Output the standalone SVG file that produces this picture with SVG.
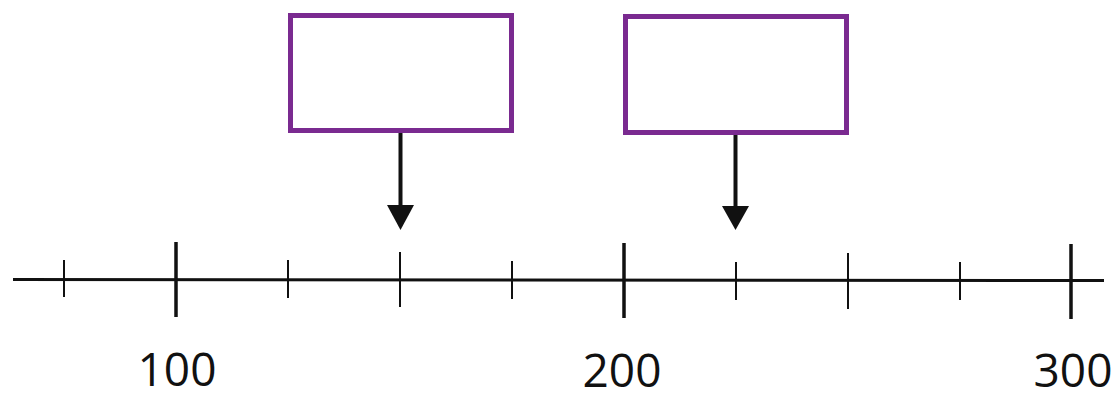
<svg xmlns="http://www.w3.org/2000/svg" width="1117" height="402" viewBox="0 0 1117 402">
<style>
.box{fill:#ffffff;stroke:#7a2a90;stroke-width:5}
.ax{stroke:#111;stroke-width:3;fill:none}
.tk{stroke:#111;stroke-width:2}
.mj{stroke:#111;stroke-width:3.5}
.arr{stroke:#111;stroke-width:4;fill:none}
.lbl{font-family:"Open Sans","Noto Sans",sans-serif;font-size:46px;fill:#111;text-anchor:middle}
</style>
<rect width="1117" height="402" fill="#ffffff"/>
<g id="box1"><rect class="box" x="290.5" y="15.5" width="221" height="115"/></g>
<g id="box2"><rect class="box" x="625.5" y="16.5" width="221" height="116"/></g>
<g id="connectors">
<line class="arr" x1="400.5" y1="133" x2="400.5" y2="207"/>
<polygon points="387,205 414,205 400.5,230" fill="#111"/>
<line class="arr" x1="735.5" y1="135" x2="735.5" y2="208"/>
<polygon points="722,206 749,206 735.5,230" fill="#111"/>
</g>
<g id="numberline">
<line class="ax" x1="13" y1="279.5" x2="1104" y2="280.5"/>
<line class="tk" x1="64" y1="260" x2="64" y2="297"/>
<line class="mj" x1="176" y1="242" x2="176" y2="317"/>
<line class="tk" x1="288" y1="260" x2="288" y2="298"/>
<line class="tk" x1="400" y1="252" x2="400" y2="307"/>
<line class="tk" x1="512" y1="261" x2="512" y2="299"/>
<line class="mj" x1="624" y1="243" x2="624" y2="318"/>
<line class="tk" x1="736" y1="262" x2="736" y2="300"/>
<line class="tk" x1="848" y1="253" x2="848" y2="309"/>
<line class="tk" x1="960" y1="262" x2="960" y2="300"/>
<line class="mj" x1="1071" y1="244" x2="1071" y2="319"/>
</g>
<g id="labels">
<text class="lbl" x="177" y="386">100</text>
<text class="lbl" x="622" y="387">200</text>
<text class="lbl" x="1073" y="387">300</text>
</g>
</svg>
